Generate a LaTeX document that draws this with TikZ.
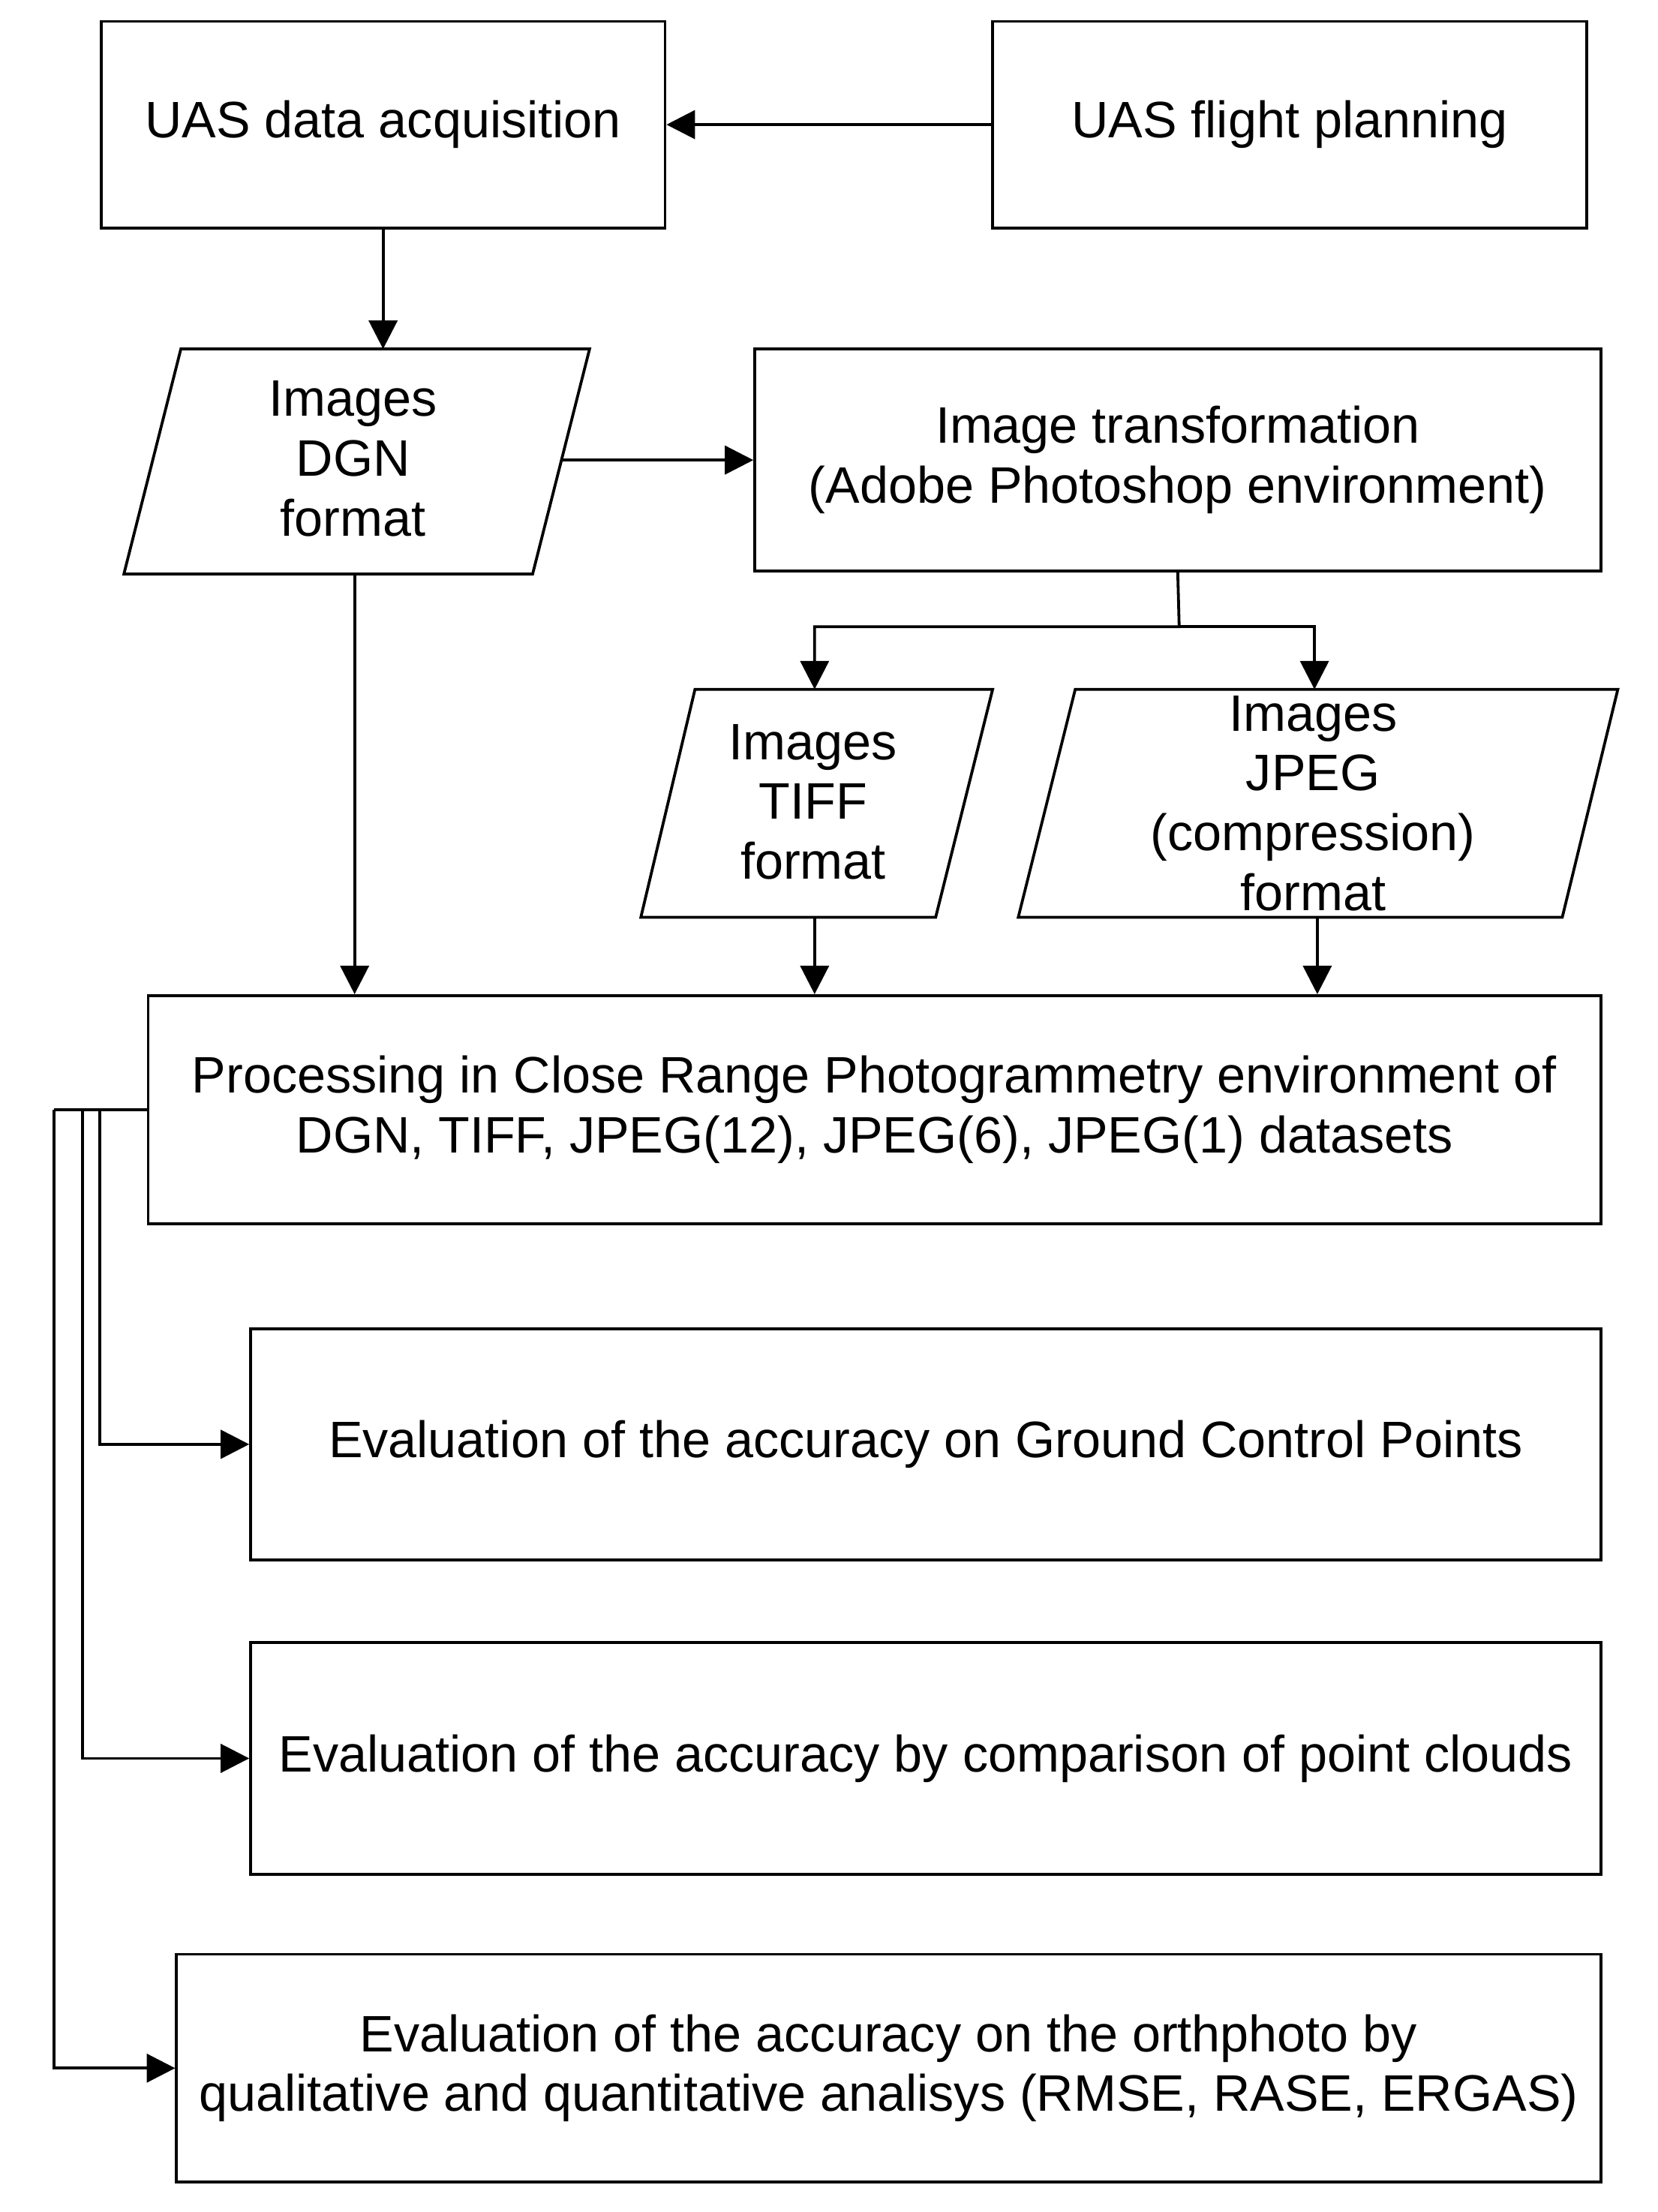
\documentclass[tikz,border=0pt]{standalone}
\usepackage{fontspec}
\setmainfont{Liberation Sans}
\usetikzlibrary{arrows.meta}
\begin{document}
\begin{tikzpicture}[x=1pt,y=-1pt,
  box/.style={draw,line width=2pt,inner sep=0pt},
  txt/.style={align=center,font=\fontsize{36}{42}\selectfont},
  arr/.style={line width=2pt,-{Triangle[length=20pt,width=20pt]}},
  ln/.style={line width=2pt}]
\useasboundingbox (0,0) rectangle (1164,1553);
\fill[white] (0,0) rectangle (1164,1553);
\node[box,txt,minimum width=396pt,minimum height=145pt] (acq) at (269,87.5) {UAS data acquisition};
\node[box,txt,minimum width=417pt,minimum height=145pt] (plan) at (905.5,87.5) {UAS flight planning};
\draw[ln] (127,245) -- (414,245) -- (374,403) -- (87,403) -- cycle;
\node[txt] (dgn) at (248,322) {Images\\DGN\\format};
\node[box,txt,minimum width=594pt,minimum height=156pt] (tr) at (827,323) {Image transformation\\(Adobe Photoshop environment)};
\draw[ln] (488,484) -- (697,484) -- (657,644) -- (450,644) -- cycle;
\node[txt] (tiff) at (571,563) {Images\\TIFF\\format};
\draw[ln] (755,484) -- (1136,484) -- (1097,644) -- (715,644) -- cycle;
\node[txt] (jpeg) at (922,564) {Images\\JPEG\\(compression)\\format};
\node[box,txt,minimum width=1020pt,minimum height=160pt] (proc) at (614,779) {Processing in Close Range Photogrammetry environment of\\DGN, TIFF, JPEG(12), JPEG(6), JPEG(1) datasets};
\node[box,txt,minimum width=948pt,minimum height=162pt] (gcp) at (650,1014) {Evaluation of the accuracy on Ground Control Points};
\node[box,txt,minimum width=948pt,minimum height=163pt] (pc) at (650,1234.5) {Evaluation of the accuracy by comparison of point clouds};
\node[box,txt,minimum width=1000pt,minimum height=160pt] (orth) at (624,1452) {Evaluation of the accuracy on the orthphoto by\\qualitative and quantitative analisys (RMSE, RASE, ERGAS)};
\coordinate (dgnr) at (395,323);
\coordinate (dgnb) at (249,403);
\coordinate (tiffb) at (572,644);
\coordinate (jpegb) at (925,644);
\draw[arr] (plan.west) -- (acq.east);
\draw[arr] (acq.south) -- (269,245);
\draw[arr] (dgnr) -- (tr.west);
\draw[arr] (tr.south) -- (828,440) -| (572,484);
\draw[arr] (828,440) -| (923,484);
\draw[arr] (dgnb) -- (dgnb |- proc.north);
\draw[arr] (tiffb) -- (tiffb |- proc.north);
\draw[arr] (jpegb) -- (jpegb |- proc.north);
\draw[ln] (proc.west) -- (38,779);
\draw[arr] (70,779) |- (gcp.west);
\draw[arr] (58,779) |- (pc.west);
\draw[arr] (38,779) |- (orth.west);
\end{tikzpicture}
\end{document}
